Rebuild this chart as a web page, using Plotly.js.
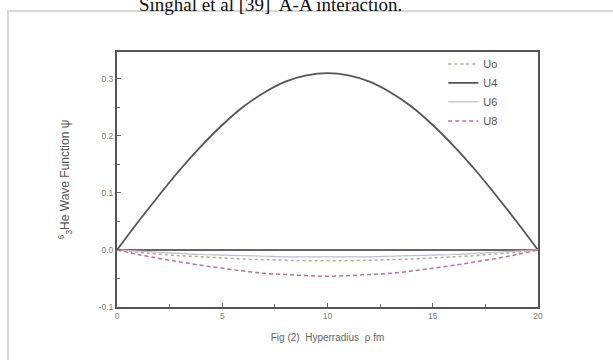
<!DOCTYPE html>
<html><head><meta charset="utf-8">
<script src="https://cdn.plot.ly/plotly-3.0.1.min.js"></script>
<style>
html,body{margin:0;padding:0;background:#fff;overflow:hidden;}
#frame{position:absolute;left:7px;top:10px;width:610px;height:360px;border:2px solid #d8d8d8;box-sizing:border-box;}
#chart{position:absolute;left:0;top:0;width:613px;height:360px;}
</style></head>
<body>
<div id="frame"></div>
<div id="chart"></div>
<script>
var rho = [0,1,2,3,4,5,6,7,8,9,10,11,12,13,14,15,16,17,18,19,20];
var U4  = [0,0.049,0.096,0.141,0.182,0.219,0.251,0.276,0.295,0.306,0.310,0.306,0.295,0.276,0.251,0.219,0.182,0.141,0.096,0.049,0];
var U8  = [0,-0.008,-0.015,-0.021,-0.027,-0.032,-0.037,-0.041,-0.043,-0.045,-0.046,-0.045,-0.043,-0.041,-0.037,-0.032,-0.027,-0.021,-0.015,-0.008,0];
var Uo  = [0,-0.004,-0.007,-0.010,-0.012,-0.014,-0.016,-0.017,-0.018,-0.019,-0.019,-0.019,-0.018,-0.017,-0.016,-0.014,-0.012,-0.010,-0.007,-0.004,0];
var U6  = [0,-0.002,-0.004,-0.006,-0.008,-0.009,-0.010,-0.011,-0.012,-0.012,-0.012,-0.012,-0.012,-0.011,-0.010,-0.009,-0.008,-0.006,-0.004,-0.002,0];
var names = ['Uo','U4','U6','U8'];

var traces = [
 {x:rho,y:Uo,name:names[0],mode:'lines',line:{color:'#b8a890',width:1.5,dash:'dot',shape:'spline'}},
 {x:rho,y:U4,name:names[1],mode:'lines',line:{color:'#555555',width:1.8,shape:'spline'}},
 {x:rho,y:U6,name:names[2],mode:'lines',line:{color:'#c4bccc',width:1.2,shape:'spline'}},
 {x:rho,y:U8,name:names[3],mode:'lines',line:{color:'#c86a9a',width:1.5,dash:'4px,3px',shape:'spline'}}
];
var layout = {
 width:613,height:360,
 margin:{l:117,r:75,t:52,b:53},
 paper_bgcolor:'rgba(0,0,0,0)',plot_bgcolor:'#fff',
 showlegend:true,
 legend:{x:0.775,y:1.01,xanchor:'left',yanchor:'top',bgcolor:'rgba(0,0,0,0)',
   font:{family:'Arial',size:11,color:'#555'},tracegroupgap:0,itemwidth:30},
 xaxis:{range:[0,20],tickvals:[0,5,10,15,20],ticks:'inside',ticklen:4,tickcolor:'#666',
   minor:{tickvals:[2.5,7.5,12.5,17.5],ticks:'inside',ticklen:3,tickcolor:'#666'},
   showline:true,linecolor:'#555',linewidth:2,mirror:true,showgrid:false,zeroline:false,
   tickfont:{family:'Arial',size:8.5,color:'#777'},
   title:{text:'Fig (2)  Hyperradius  ρ fm',font:{family:'Arial',size:10,color:'#666'},standoff:14}},
 yaxis:{range:[-0.1,0.347],tickvals:[-0.1,0,0.1,0.2,0.3],ticktext:['-0.1','0.0','0.1','0.2','0.3'],
   ticks:'inside',ticklen:4,tickcolor:'#666',
   minor:{tickvals:[-0.05,0.05,0.15,0.25],ticks:'inside',ticklen:3,tickcolor:'#666'},
   showline:true,linecolor:'#555',linewidth:2,mirror:true,showgrid:false,
   zeroline:true,zerolinecolor:'#666',zerolinewidth:1.5,
   tickfont:{family:'Arial',size:8.5,color:'#777'},
   title:{text:'<sup>6</sup><sub>3</sub>He Wave Function ψ',font:{family:'Arial',size:12,color:'#555'},standoff:26}},
 annotations:[{xref:'paper',yref:'paper',x:(270-117)/421,y:1+48/255,xanchor:'center',yanchor:'middle',
   text:'Singhal et al [39]  A-A interaction.',showarrow:false,
   font:{family:'Liberation Serif',size:19,color:'#111'}}]
};
Plotly.newPlot('chart',traces,layout,{displayModeBar:false,staticPlot:true});
</script>
</body></html>
